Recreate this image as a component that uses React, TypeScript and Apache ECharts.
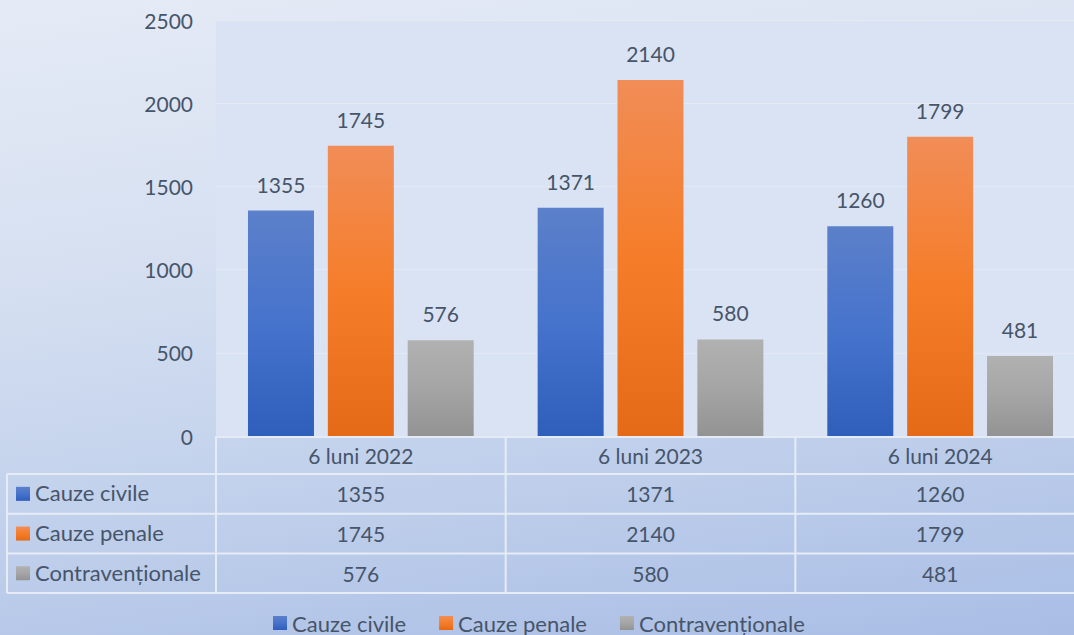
import React, { useEffect, useRef } from "react";
import * as echarts from "echarts";

const categories = ["6 luni 2022", "6 luni 2023", "6 luni 2024"];
const seriesNames = ["Cauze civile", "Cauze penale", "Contravenționale"];
const civile = [1355, 1371, 1260];
const penale = [1745, 2140, 1799];
const contraventionale = [576, 580, 481];
const yMin = 0;
const yMax = 2500;
const yInterval = 500;

const W = 1090;
const H = 635;
const GRID_LEFT = 216;
const GRID_TOP = 20;
const GRID_RIGHT_X = 1085;
const GRID_BOTTOM_Y = 436;
const HEADER_BOTTOM = 474;
const ROW_H = 39.7;
const TABLE_LEFT = 7;
const FONT = "Lato, 'Open Sans', sans-serif";
const NUM_SIZE = 21;
const WORD_SIZE = 22;
const TEXT_COLOR = "#465569";
const LINE_COLOR = "#e6ecf5";

const grad = (top: string, mid: string, bottom: string) =>
  new echarts.graphic.LinearGradient(0, 0, 0, 1, [
    { offset: 0, color: top },
    { offset: 0.5, color: mid },
    { offset: 1, color: bottom },
  ]);

const colors = [
  () => grad("#5c80ca", "#4673cc", "#2e5fbb"),
  () => grad("#f18d57", "#f57d29", "#e56a17"),
  () => grad("#b1b1b1", "#a5a5a5", "#939393"),
];

export default function App() {
  const ref = useRef<HTMLDivElement>(null);
  useEffect(() => {
    document.body.style.margin = "0";
    document.body.style.overflow = "hidden";
    if (!ref.current) return;
    const chart = echarts.init(ref.current, undefined, { renderer: "svg" });
    const values = [civile, penale, contraventionale];
    const bandW = (GRID_RIGHT_X - GRID_LEFT) / categories.length;
    const colX = (i: number) => GRID_LEFT + bandW * i;

    const graphics: any[] = [];
    const line = (x1: number, y1: number, x2: number, y2: number) =>
      graphics.push({
        type: "line",
        shape: { x1, y1, x2, y2 },
        style: { stroke: LINE_COLOR, lineWidth: 2 },
        silent: true,
      });
    const nRows = seriesNames.length;
    const tableBottom = HEADER_BOTTOM + ROW_H * nRows;
    line(GRID_LEFT, GRID_BOTTOM_Y + 1, GRID_RIGHT_X, GRID_BOTTOM_Y + 1);
    for (let r = 0; r <= nRows; r++) {
      const y = HEADER_BOTTOM + ROW_H * r;
      line(TABLE_LEFT, y, GRID_RIGHT_X, y);
    }
    line(TABLE_LEFT, HEADER_BOTTOM, TABLE_LEFT, tableBottom);
    for (let c = 0; c < categories.length; c++) {
      line(colX(c), GRID_BOTTOM_Y, colX(c), tableBottom);
    }
    categories.forEach((cat, c) => {
      graphics.push({
        type: "text",
        x: colX(c) + bandW / 2,
        y: (GRID_BOTTOM_Y + HEADER_BOTTOM) / 2,
        style: {
          text: cat,
          fill: TEXT_COLOR,
          font: `${NUM_SIZE}px ${FONT}`,
          textAlign: "center",
          textVerticalAlign: "middle",
        },
      });
    });
    seriesNames.forEach((name, r) => {
      const cy = HEADER_BOTTOM + ROW_H * r + ROW_H / 2;
      graphics.push({
        type: "rect",
        shape: { x: 16, y: cy - 7, width: 14, height: 14 },
        style: { fill: colors[r]() },
      });
      graphics.push({
        type: "text",
        x: 35,
        y: cy - 1,
        style: {
          text: name,
          fill: TEXT_COLOR,
          font: `${WORD_SIZE}px ${FONT}`,
          textAlign: "left",
          textVerticalAlign: "middle",
        },
      });
      values[r].forEach((v, c) => {
        graphics.push({
          type: "text",
          x: colX(c) + bandW / 2,
          y: cy,
          style: {
            text: String(v),
            fill: TEXT_COLOR,
            font: `${NUM_SIZE}px ${FONT}`,
            textAlign: "center",
            textVerticalAlign: "middle",
          },
        });
      });
    });

    chart.setOption({
      animation: false,
      backgroundColor: "transparent",
      textStyle: { fontFamily: FONT },
      grid: {
        left: GRID_LEFT,
        top: GRID_TOP,
        right: W - GRID_RIGHT_X,
        bottom: H - GRID_BOTTOM_Y,
        show: true,
        backgroundColor: "#dae3f3",
        borderWidth: 0,
        containLabel: false,
      },
      legend: {
        bottom: -4,
        left: 268,
        icon: "rect",
        itemWidth: 14,
        itemHeight: 14,
        itemGap: 33,
        data: seriesNames,
        textStyle: { color: TEXT_COLOR, fontSize: WORD_SIZE, fontFamily: FONT, padding: [0, 0, 0, 0] },
      },
      xAxis: {
        type: "category",
        data: categories,
        axisLine: { show: false },
        axisTick: { show: false },
        axisLabel: { show: false },
      },
      yAxis: {
        type: "value",
        min: yMin,
        max: yMax,
        interval: yInterval,
        axisLine: { show: false },
        axisTick: { show: false },
        axisLabel: {
          color: TEXT_COLOR,
          fontSize: NUM_SIZE,
          fontFamily: FONT,
          margin: 23,
          formatter: (v: number) => String(v),
        },
        splitLine: { lineStyle: { color: "#e4e9f3", width: 1 } },
      },
      series: seriesNames.map((name, i) => ({
        name,
        type: "bar",
        data: values[i],
        barWidth: 66,
        barGap: "21%",
        itemStyle: { color: colors[i]() },
        label: {
          show: true,
          position: "top",
          distance: 16,
          color: TEXT_COLOR,
          fontSize: NUM_SIZE,
          fontFamily: FONT,
        },
      })),
      graphic: graphics,
    });
    return () => chart.dispose();
  }, []);
  return (
    <div
      ref={ref}
      style={{
        width: W,
        height: H,
        background: "linear-gradient(172deg, #e5ebf6 0%, #d6e0f1 35%, #bfcfeb 70%, #a9bde5 100%)",
      }}
    />
  );
}
